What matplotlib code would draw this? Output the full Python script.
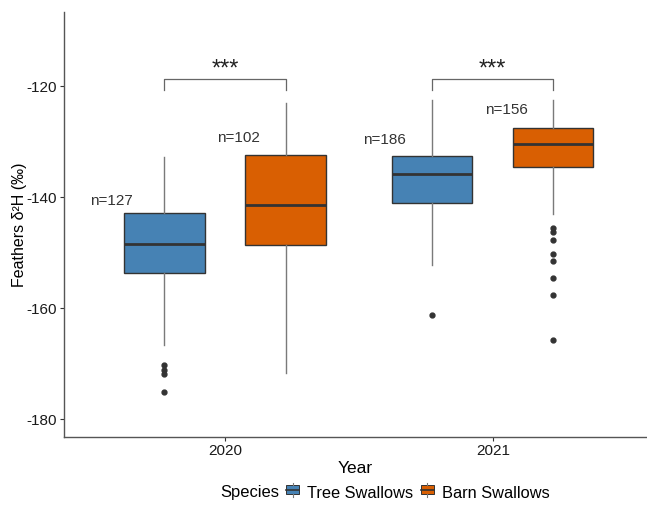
import matplotlib.pyplot as plt
from matplotlib.lines import Line2D
from matplotlib.patches import Patch, Rectangle

plt.rcParams["font.family"] = ["Liberation Sans", "DejaVu Sans"]
plt.rcParams["axes.unicode_minus"] = False

# data (five-number summaries + outliers)
years = ["2020", "2021"]
species = ["Tree Swallows", "Barn Swallows"]
colors = ["#4682B4", "#D95F02"]

q1 = {"Tree Swallows": [-153.7, -141.1], "Barn Swallows": [-148.7, -134.6]}
med = {"Tree Swallows": [-148.4, -135.8], "Barn Swallows": [-141.4, -130.4]}
q3 = {"Tree Swallows": [-142.8, -132.6], "Barn Swallows": [-132.5, -127.6]}
whislo = {"Tree Swallows": [-166.7, -152.2], "Barn Swallows": [-171.7, -143.1]}
whishi = {"Tree Swallows": [-132.8, -122.6], "Barn Swallows": [-123.1, -122.5]}
fliers = {
    "Tree Swallows": [[-170.2, -171.2, -171.8, -175.1], [-161.2]],
    "Barn Swallows": [[], [-145.5, -146.3, -147.7, -150.2, -151.5, -154.6, -157.6, -165.8]],
}
n_labels = {"Tree Swallows": ["n=127", "n=186"], "Barn Swallows": ["n=102", "n=156"]}
n_label_y = {"Tree Swallows": [-140.7, -129.7], "Barn Swallows": [-129.3, -124.4]}
n_label_dx = {"Tree Swallows": [-0.197, -0.179], "Barn Swallows": [-0.174, -0.176]}
signif = ["***", "***"]


class BoxKey:
    # small boxplot glyph for the legend keys, like ggplot draws them
    def legend_artist(self, legend, orig_handle, fontsize, handlebox):
        x0, y0 = handlebox.xdescent, handlebox.ydescent
        w, h = handlebox.width, handlebox.height
        tr = handlebox.get_transform()
        fc = orig_handle.get_facecolor()
        rect = Rectangle((x0, y0 + 0.18 * h), w, 0.64 * h, facecolor=fc,
                         edgecolor="#333333", linewidth=0.7, transform=tr)
        handlebox.add_artist(rect)
        handlebox.add_artist(Line2D([x0, x0 + w], [y0 + h / 2] * 2, color="#333333",
                                    lw=1.2, transform=tr))
        handlebox.add_artist(Line2D([x0 + w / 2] * 2, [y0, y0 + 0.18 * h], color="#7a7a7a",
                                    lw=0.8, transform=tr))
        handlebox.add_artist(Line2D([x0 + w / 2] * 2, [y0 + 0.82 * h, y0 + h], color="#7a7a7a",
                                    lw=0.8, transform=tr))
        return rect


fig = plt.figure(figsize=(6.47, 5.08), dpi=100)
ax = fig.add_axes([0.099, 0.140, 0.899, 0.836])

offset = 0.226
width = 0.30
for i, sp in enumerate(species):
    stats = []
    for j in range(len(years)):
        stats.append(dict(q1=q1[sp][j], med=med[sp][j], q3=q3[sp][j],
                          whislo=whislo[sp][j], whishi=whishi[sp][j],
                          fliers=fliers[sp][j]))
    pos = [j + 1 + (offset if i else -offset) for j in range(len(years))]
    ax.bxp(stats, positions=pos, widths=width, patch_artist=True, showcaps=False,
           boxprops=dict(facecolor=colors[i], edgecolor="#333333", linewidth=1.0),
           medianprops=dict(color="#333333", linewidth=2.0),
           whiskerprops=dict(color="#7a7a7a", linewidth=1.0),
           flierprops=dict(marker="o", markersize=3.5, markerfacecolor="#333333",
                           markeredgecolor="#333333"))
    for j in range(len(years)):
        ax.text(pos[j] + n_label_dx[sp][j], n_label_y[sp][j], n_labels[sp][j], ha="center",
                va="center", fontsize=11, color="#333333")

# significance brackets
for j in range(len(years)):
    x0, x1 = j + 1 - offset, j + 1 + offset
    ax.plot([x0, x0, x1, x1], [-120.8, -118.7, -118.7, -120.8], color="#666666", lw=0.9)
    ax.text(j + 1, -117.0, signif[j], ha="center", va="center", fontsize=17, color="#222222")

ax.set_xlim(0.399, 2.571)
ax.set_ylim(-183.2, -106.7)
ax.set_xticks([1, 2])
ax.set_xticklabels(years)
ax.set_yticks([-180, -160, -140, -120])
ax.tick_params(axis="both", labelsize=11, length=3, color="#333333", labelcolor="#1a1a1a", pad=2)
for s in ["top", "right"]:
    ax.spines[s].set_visible(False)
for s in ["left", "bottom"]:
    ax.spines[s].set_color("#555555")
    ax.spines[s].set_linewidth(1.0)
ax.set_xlabel("Year", fontsize=12.5, labelpad=2)
ax.set_ylabel("Feathers δ²H (‰)", fontsize=11.5, labelpad=0)

fig.text(220 / 647, 1 - 493 / 508, "Species", ha="left", va="center", fontsize=11.9)
handles = [Patch(facecolor=c) for c in colors]
fig.legend(handles, species, loc="center left", bbox_to_anchor=(286 / 647, 1 - 493 / 508),
           ncol=2, frameon=False, fontsize=11.8, handlelength=0.8, handleheight=0.9,
           handletextpad=0.5, columnspacing=0.45, borderpad=0, borderaxespad=0,
           handler_map={Patch: BoxKey()})

fig.savefig("out.png", dpi=100)
